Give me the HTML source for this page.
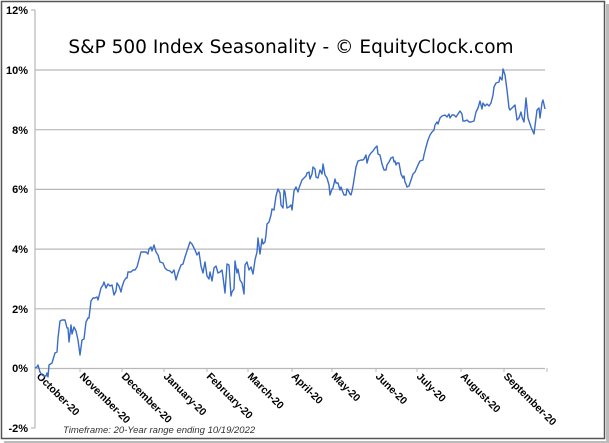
<!DOCTYPE html>
<html><head><meta charset="utf-8"><style>
html,body{margin:0;padding:0;background:#fff;}
svg{display:block;font-family:"Liberation Sans",Arial,sans-serif;}
</style></head><body>
<svg width="609" height="443" viewBox="0 0 609 443">
<rect x="0" y="0" width="609" height="443" fill="#fff"/>
<rect x="4" y="441" width="603" height="2" fill="#bbb"/>
<rect x="606" y="4" width="3" height="439" fill="#bbb"/>
<rect x="1.5" y="1.5" width="603" height="437" fill="#fff" stroke="#555" stroke-width="1.5"/>
<g stroke="#b8b8b8" stroke-width="1.2">
<line x1="35" y1="70" x2="545" y2="70"/>
<line x1="35" y1="129.7" x2="545" y2="129.7"/>
<line x1="35" y1="189.4" x2="545" y2="189.4"/>
<line x1="35" y1="249.1" x2="545" y2="249.1"/>
<line x1="35" y1="308.8" x2="545" y2="308.8"/>
<line x1="35" y1="368.5" x2="545" y2="368.5"/>
<line x1="35" y1="10" x2="35" y2="428"/>
<line x1="31" y1="10" x2="35" y2="10"/>
<line x1="31" y1="428" x2="35" y2="428"/>
</g>
<g stroke="#b8b8b8" stroke-width="1">
<line x1="80" y1="368" x2="80" y2="372"/><line x1="122" y1="368" x2="122" y2="372"/>
<line x1="164" y1="368" x2="164" y2="372"/><line x1="207" y1="368" x2="207" y2="372"/>
<line x1="248" y1="368" x2="248" y2="372"/><line x1="292" y1="368" x2="292" y2="372"/>
<line x1="332" y1="368" x2="332" y2="372"/><line x1="376" y1="368" x2="376" y2="372"/>
<line x1="417" y1="368" x2="417" y2="372"/><line x1="461" y1="368" x2="461" y2="372"/>
<line x1="504" y1="368" x2="504" y2="372"/><line x1="547" y1="368" x2="547" y2="372"/>
</g>
<g font-size="11" font-weight="bold" text-anchor="end" fill="#000">
<text x="28" y="14">12%</text><text x="28" y="74">10%</text><text x="28" y="134">8%</text>
<text x="28" y="193">6%</text><text x="28" y="253">4%</text><text x="28" y="313">2%</text>
<text x="28" y="372">0%</text><text x="28" y="432">-2%</text>
</g>
<g font-size="10.5" font-weight="bold" fill="#000">
<text transform="translate(36,377) rotate(45)">October-20</text>
<text transform="translate(79,377) rotate(45)">November-20</text>
<text transform="translate(121,377) rotate(45)">December-20</text>
<text transform="translate(163,377) rotate(45)">January-20</text>
<text transform="translate(206,377) rotate(45)">February-20</text>
<text transform="translate(247,377) rotate(45)">March-20</text>
<text transform="translate(291,377) rotate(45)">April-20</text>
<text transform="translate(331,377) rotate(45)">May-20</text>
<text transform="translate(375,377) rotate(45)">June-20</text>
<text transform="translate(416,377) rotate(45)">July-20</text>
<text transform="translate(460,377) rotate(45)">August-20</text>
<text transform="translate(503,377) rotate(45)">September-20</text>
</g>
<text x="291" y="53" font-size="18.5" text-anchor="middle" fill="#000" style="font-family:'DejaVu Sans',sans-serif">S&amp;P 500 Index Seasonality - © EquityClock.com</text>
<text x="63" y="433" font-size="9.5" font-style="italic" fill="#333">Timeframe: 20-Year range ending 10/19/2022</text>
<polyline fill="none" stroke="#3a6cc8" stroke-width="1.4" stroke-linejoin="round" points="
35,368 37,367 38,365 40,372 42,375 44,376 46,376 47,373 48,377 49,365 52,363 55,353 57,352 58,338 60,321 62,320 65,320 67,328 68,328 69,342 71,325 72,334 74,327 76,331 78,340 80,355 82,340 84,339 86,322 88,318 89,318 91,301 93,298 95,298 97,297 98,300 99,296 101,288 103,285 104,282 106,288 107,286 108,284 110,286 112,285 114,295 116,291 117,283 119,286 121,292 122,287 124,281 126,278 127,278 128,272 131,272 133,270 135,270 137,267 141,252 142,252 144,252 146,252 148,254 149,249 151,247 152,251 154,245 156,252 158,255 160,262 163,263 165,268 167,270 170,271 172,273 174,270 176,280 178,273 181,265 183,264 185,257 188,248 190,242 192,244 195,250 197,255 199,252 201,266 203,273 205,262 207,276 209,279 210,272 212,281 214,268 216,266 218,273 220,272 222,270 223,277 225,293 227,264 229,265 231,296 232,292 234,289 235,261 237,273 238,269 240,280 242,283 244,294 245,265 247,262 249,270 251,267 253,274 255,260 257,252 258,238 260,254 262,239 263,244 265,242 266,235 267,224 269,222 271,215 272,209 274,210 276,196 278,189 280,193 281,205 283,208 284,190 285,192 287,208 289,207 291,205 292,210 294,191 296,187 298,192 299,188 302,180 305,177 306,176 307,173 309,172 310,179 312,174 313,167 315,169 316,177 318,178 320,170 322,174 323,164 325,175 327,178 329,185 330,195 332,189 333,188 335,179 336,183 338,183 340,190 341,187 342,190 344,195 346,195 347,189 348,190 350,194 351,195 352,191 353,186 356,167 358,161 361,160 363,160 364,159 366,155 367,163 369,156 371,153 373,151 375,148 377,146 378,154 380,155 382,164 384,170 386,170 387,165 389,162 391,158 393,157 394,162 395,161 396,165 397,163 399,163 401,174 403,178 404,176 405,182 406,184 407,187 409,186 411,180 413,174 415,172 418,165 420,161 423,160 424,155 426,147 428,140 430,135 432,132 434,130 435,125 437,122 438,124 440,118 442,116 445,115 447,117 449,114 450,118 452,115 454,115 456,117 458,114 460,111 462,114 463,121 465,121 467,120 469,122 471,122 474,121 476,112 478,108 480,101 482,109 483,103 485,106 487,104 489,106 491,103 493,95 494,87 496,83 499,82 500,77 502,80 503,69 505,75 507,90 509,108 510,110 513,107 515,105 517,120 519,118 521,112 522,117 524,122 526,98 528,118 531,127 534,134 537,110 539,108 540,118 542,103 543,100 545,109"/>
</svg>
</body></html>
